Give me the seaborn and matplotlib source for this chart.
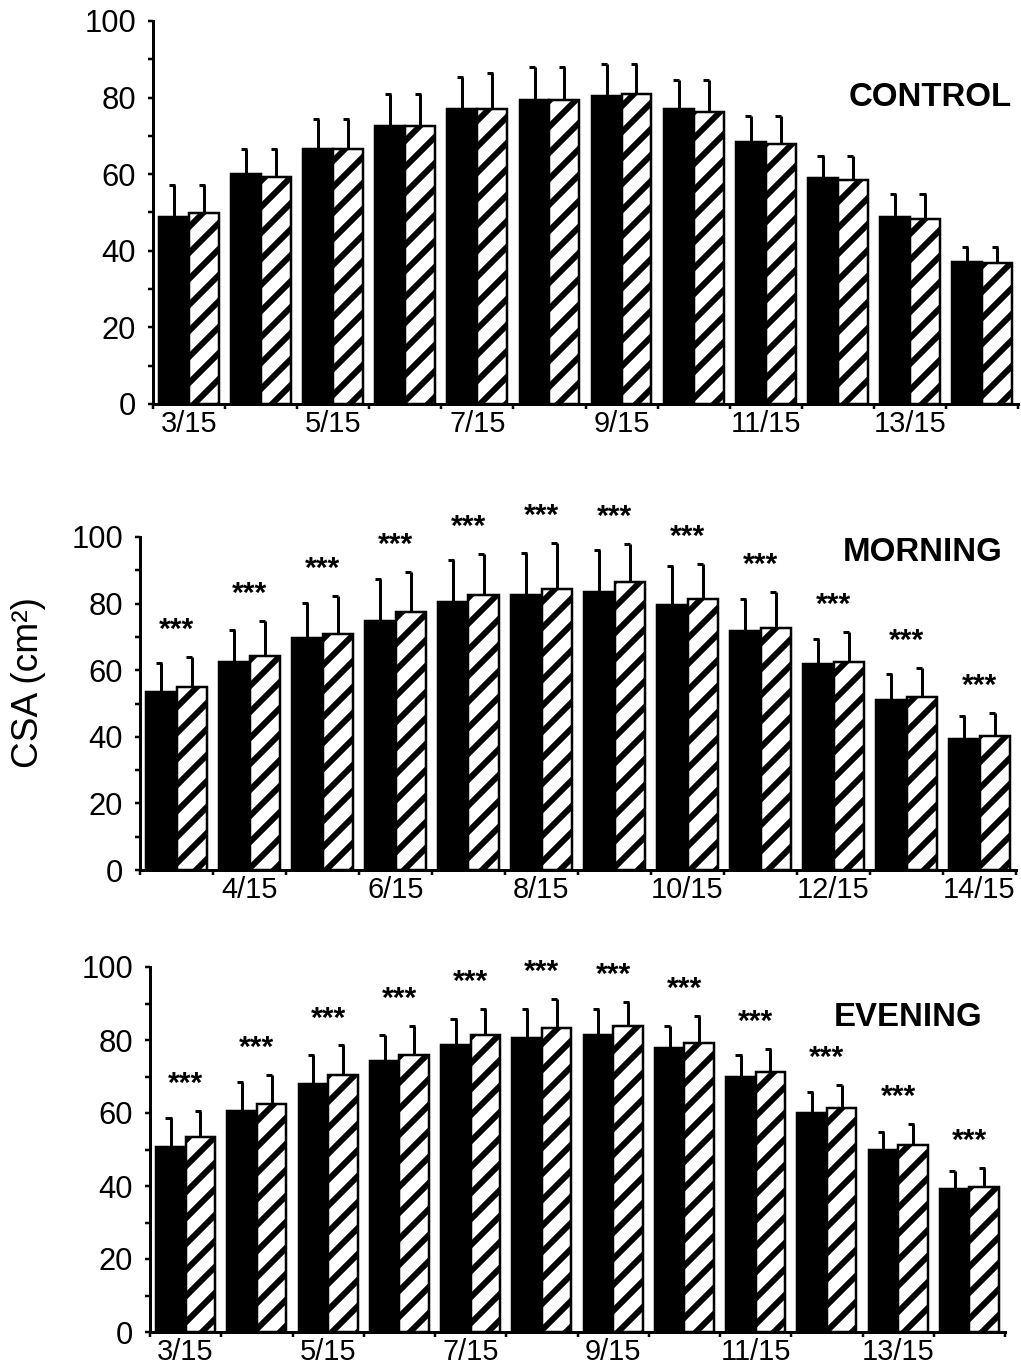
import numpy as np
import pandas as pd
import matplotlib
matplotlib.use("Agg")
import matplotlib.pyplot as plt
import seaborn as sns
from matplotlib.ticker import MultipleLocator

# ---------------- data ----------------
slices = ["3/15", "4/15", "5/15", "6/15", "7/15", "8/15", "9/15",
          "10/15", "11/15", "12/15", "13/15", "14/15"]

control_solid = [48.9, 60.0, 66.7, 72.6, 76.9, 79.5, 80.3, 76.9, 68.3, 59.1, 48.7, 37.0]
control_solid_sd = [8.2, 6.7, 7.6, 8.4, 8.5, 8.5, 8.6, 7.6, 6.8, 5.6, 6.0, 4.0]
control_hatched = [49.9, 59.3, 66.7, 72.6, 76.9, 79.5, 81.0, 76.3, 68.0, 58.6, 48.2, 36.7]
control_hatched_sd = [7.2, 7.4, 7.6, 8.4, 9.4, 8.5, 7.9, 8.2, 7.1, 6.1, 6.5, 4.3]
control_stars = [False] * 12

morning_solid = [53.5, 62.4, 69.6, 74.8, 80.5, 82.5, 83.5, 79.7, 71.8, 61.9, 51.1, 39.3]
morning_solid_sd = [8.6, 9.6, 10.6, 12.6, 12.7, 12.7, 12.5, 11.5, 9.6, 7.5, 7.7, 6.8]
morning_hatched = [55.0, 64.4, 70.8, 77.4, 82.5, 84.4, 86.4, 81.4, 72.6, 62.6, 52.1, 40.1]
morning_hatched_sd = [9.1, 10.5, 11.6, 12.0, 12.5, 13.8, 11.6, 10.6, 10.8, 9.0, 8.5, 7.0]
morning_stars = [True] * 12

evening_solid = [50.7, 60.6, 67.9, 74.2, 78.7, 80.6, 81.3, 77.8, 69.8, 59.9, 50.0, 39.1]
evening_solid_sd = [7.8, 8.0, 7.9, 7.1, 7.0, 7.9, 7.2, 6.1, 6.0, 5.9, 4.8, 5.1]
evening_hatched = [53.5, 62.4, 70.4, 75.8, 81.3, 83.3, 83.9, 79.3, 71.3, 61.3, 51.1, 39.8]
evening_hatched_sd = [7.1, 8.1, 8.1, 8.1, 7.2, 7.9, 6.4, 7.3, 6.3, 6.3, 5.8, 5.1]
evening_stars = [True] * 12

titles = ["CONTROL", "MORNING", "EVENING"]
y_label = "CSA (cm²)"

# ---------------- style ----------------
DPI = 156
W, H = 1021, 1372


def pt(px):
    return px * 72.0 / DPI


sns.set_style("ticks")
plt.rcParams["font.family"] = ["Liberation Sans", "DejaVu Sans"]
plt.rcParams["hatch.linewidth"] = pt(6)
plt.rcParams["hatch.color"] = "black"
for key in ["text.color", "axes.labelcolor", "xtick.color", "ytick.color", "axes.edgecolor"]:
    plt.rcParams[key] = "black"

fig = plt.figure(figsize=(W / DPI, H / DPI), dpi=DPI)
fig.patch.set_facecolor("white")

# axes rectangles in pixels: left, right, bottom(y of 0), top(y of 100)
rects_px = [(153, 1018, 404, 21), (140, 1016, 870, 537), (150, 1005, 1332, 967)]
title_pos = [(0.993, 0.80), (0.985, 0.952), (0.974, 0.863)]
label_parity = [0, 1, 0]

panels = [
    (control_solid, control_solid_sd, control_hatched, control_hatched_sd, control_stars),
    (morning_solid, morning_solid_sd, morning_hatched, morning_hatched_sd, morning_stars),
    (evening_solid, evening_solid_sd, evening_hatched, evening_hatched_sd, evening_stars),
]

for k, (solid, solid_sd, hatched, hatched_sd, stars) in enumerate(panels):
    l, r, b, t = rects_px[k]
    ax = fig.add_axes([l / W, 1 - b / H, (r - l) / W, (b - t) / H])
    df = pd.DataFrame({
        "slice": slices * 2,
        "series": ["solid"] * len(slices) + ["hatched"] * len(slices),
        "csa": list(solid) + list(hatched),
    })
    sns.barplot(data=df, x="slice", y="csa", hue="series",
                hue_order=["solid", "hatched"],
                palette={"solid": "black", "hatched": "white"},
                edgecolor="black", linewidth=pt(2.5), width=0.83,
                saturation=1, errorbar=None, legend=False, ax=ax)
    for bar in ax.containers[1]:
        bar.set_hatch("//")

    # upward error bars with a left cap
    for container, sds in zip(ax.containers, [solid_sd, hatched_sd]):
        for bar, sd in zip(container, sds):
            x = bar.get_x() + bar.get_width() / 2
            top = bar.get_height()
            ax.vlines(x, top, top + sd, color="black", lw=pt(3), zorder=3)
            ax.hlines(top + sd, x - 0.075, x + 0.01, color="black", lw=pt(3), zorder=3)

    # significance stars
    for i, flag in enumerate(stars):
        if flag:
            y = max(solid[i] + solid_sd[i], hatched[i] + hatched_sd[i])
            ax.annotate("***", xy=(i, y), xytext=(0, pt(27)),
                        textcoords="offset points", ha="center", va="center",
                        fontsize=pt(30), fontweight="bold", annotation_clip=False)

    ax.set_xlim(-0.5, len(slices) - 0.5)
    ax.set_ylim(0, 100)
    ax.yaxis.set_major_locator(MultipleLocator(20))
    ax.yaxis.set_minor_locator(MultipleLocator(10))
    ax.set_xticks(range(len(slices)))
    ax.set_xticklabels([s if i % 2 == label_parity[k] else "" for i, s in enumerate(slices)])
    ax.set_xticks(np.arange(-0.5, len(slices), 1.0), minor=True)
    ax.tick_params(axis="x", which="major", length=0, pad=pt(6), labelsize=pt(29))
    ax.tick_params(axis="x", which="minor", length=pt(5), width=pt(2.5), direction="out")
    ax.tick_params(axis="y", which="both", length=pt(5), width=pt(2.5), direction="out",
                   labelsize=pt(31), pad=pt(12))
    ax.set_xlabel("")
    ax.set_ylabel("")
    sns.despine(ax=ax)
    for side in ["left", "bottom"]:
        ax.spines[side].set_linewidth(pt(3))
    ax.set_facecolor("white")

    tx, ty = title_pos[k]
    ax.text(tx, ty, titles[k], transform=ax.transAxes, ha="right", va="center",
            fontsize=pt(33), fontweight="bold")

fig.text(28 / W, 1 - 683 / H, y_label, rotation=90, ha="center", va="center",
         fontsize=pt(37))

fig.savefig("out.png", dpi=DPI, facecolor="white")
